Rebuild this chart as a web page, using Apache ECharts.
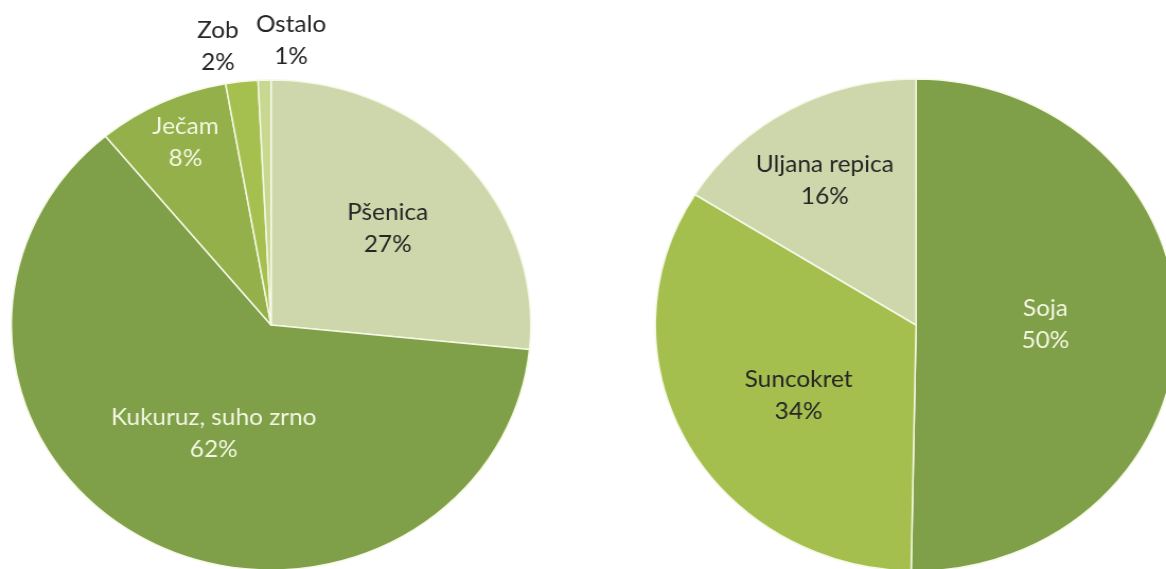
<!DOCTYPE html>
<html>
<head>
<meta charset="utf-8">
<script src="https://cdn.jsdelivr.net/npm/echarts@6/dist/echarts.min.js"></script>
<style>
  html, body { margin: 0; padding: 0; background: #fff; overflow: hidden; }
  /* original picture is slightly stretched horizontally, so the chart is too */
  #chart { width: 1100px; height: 569px; transform: scaleX(1.06); transform-origin: 0 0; }
</style>
</head>
<body>
<div id="chart"></div>
<script>
// žitarice (lijevo)
const grainNames = ['Pšenica', 'Kukuruz, suho zrno', 'Ječam', 'Zob', 'Ostalo'];
const grainValues = [26.6, 62.4, 8.2, 2.0, 0.8];
const grainColors = ['#CDD7AB', '#7F9F48', '#93B04B', '#A6C050', '#C9D890'];

// uljarice (desno)
const oilNames = ['Soja', 'Suncokret', 'Uljana repica'];
const oilValues = [50.3, 33.6, 16.1];
const oilColors = ['#7F9F48', '#A5BF4F', '#CDD7AB'];

const light = '#F3F7E2';
const dark = '#262626';

// pomak oznaka od zadanog mjesta
const grainLabels = [
  { color: dark, offset: [17, -12] },
  { color: light, offset: [5, -2] },
  { color: light, offset: [-28, -69] },
  { color: dark, offset: [-36, -154] },
  { color: dark, offset: [22, -159] }
];
const oilLabels = [
  { color: light, offset: [-4, -2] },
  { color: dark, offset: [0, 11] },
  { color: dark, offset: [-25, -34] }
];

const makeData = (names, values, colors, labels) =>
  names.map((name, i) => ({
    name: name,
    value: values[i],
    itemStyle: { color: colors[i] },
    label: labels[i]
  }));

const pieBase = {
  type: 'pie',
  radius: 245,
  startAngle: 90,
  clockwise: true,
  percentPrecision: 0,
  avoidLabelOverlap: false,
  labelLine: { show: false },
  itemStyle: { borderColor: '#F4F8E4', borderWidth: 1.5 },
  label: {
    show: true,
    position: 'inside',
    fontFamily: 'Lato',
    fontSize: 23,
    lineHeight: 32,
    formatter: '{b}\n{d}%'
  },
  emphasis: { disabled: true }
};

const chart = echarts.init(document.getElementById('chart'));
chart.setOption({
  animation: false,
  series: [
    Object.assign({}, pieBase, {
      center: [255.7, 325],
      data: makeData(grainNames, grainValues, grainColors, grainLabels)
    }),
    Object.assign({}, pieBase, {
      center: [864.2, 325],
      radius: 246,
      data: makeData(oilNames, oilValues, oilColors, oilLabels)
    })
  ]
});
</script>
</body>
</html>
